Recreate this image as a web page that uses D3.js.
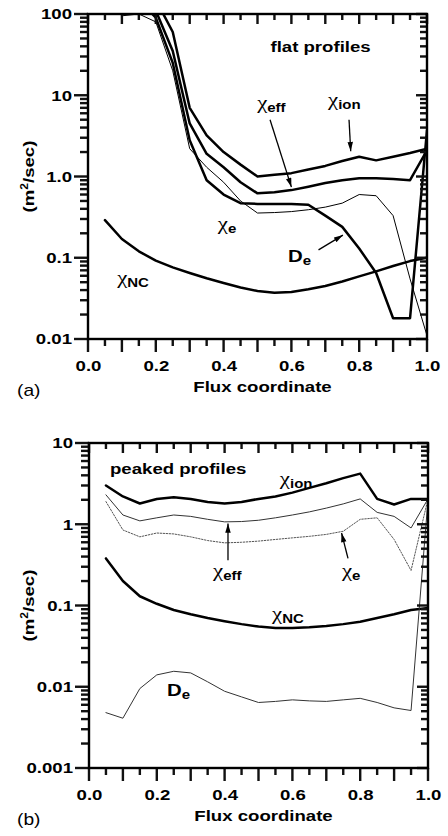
<!DOCTYPE html>
<html><head><meta charset="utf-8">
<script src="https://cdn.jsdelivr.net/npm/d3@7"></script>
<style>
body{margin:0;background:#fff}
svg{display:block}
</style></head><body>
<svg id="chart" width="448" height="836"></svg>
<script>
// ---------------- data ----------------
const xs = [0.05,0.1,0.15,0.2,0.25,0.3,0.35,0.4,0.45,0.5,0.55,0.6,0.65,0.7,0.75,0.8,0.85,0.9,0.95,1.0];

// (a) flat profiles
const flatChiIon = [150,150,150,150,60,7,3.2,2.0,1.4,1.0,1.05,1.1,1.22,1.35,1.55,1.75,1.58,1.75,1.95,2.2];
const flatChiEff = [150,150,150,110,35,4.5,1.9,1.3,0.85,0.62,0.64,0.68,0.75,0.83,0.9,0.95,0.95,0.93,0.9,2.1];
const flatDe     = [150,150,150,90,25,2.8,0.9,0.6,0.47,0.46,0.46,0.46,0.45,0.33,0.24,0.13,0.065,0.018,0.018,3.7];
const flatChiE   = [150,95,100,80,20,2.2,1.3,0.85,0.5,0.355,0.36,0.37,0.39,0.42,0.47,0.6,0.58,0.33,0.055,0.011];
const flatChiNC  = [0.29,0.17,0.12,0.092,0.076,0.065,0.056,0.049,0.043,0.039,0.037,0.038,0.041,0.045,0.051,0.059,0.068,0.079,0.091,0.1];

// (b) peaked profiles
const peakChiIon = [3.0,2.2,1.8,2.05,2.15,2.05,1.88,1.8,1.88,2.05,2.2,2.45,2.8,3.2,3.7,4.2,2.05,1.75,2.05,2.05];
const peakChiEff = [2.3,1.3,1.1,1.2,1.3,1.25,1.15,1.07,1.08,1.12,1.2,1.3,1.42,1.58,1.78,2.05,1.4,1.25,0.9,2.05];
const peakChiE   = [1.9,0.85,0.7,0.78,0.76,0.7,0.63,0.59,0.6,0.62,0.65,0.68,0.71,0.75,0.82,1.15,1.2,0.65,0.27,2.05];
const peakChiNC  = [0.38,0.2,0.13,0.105,0.088,0.078,0.07,0.064,0.059,0.055,0.053,0.053,0.054,0.056,0.059,0.063,0.07,0.078,0.088,0.093];
const peakDe     = [0.0048,0.0041,0.0095,0.014,0.0155,0.0148,0.0115,0.0088,0.0075,0.0064,0.0066,0.0069,0.0067,0.0066,0.0069,0.0072,0.0064,0.0055,0.0051,2.0];

// ticks
const xTickLabels = ["0.0","0.2","0.4","0.6","0.8","1.0"];
const flatYTicks = [100,10,1,0.1,0.01];
const flatYLabels = ["100","10","1.0","0.1","0.01"];
const peakYTicks = [10,1,0.1,0.01,0.001];
const peakYLabels = ["10","1","0.1","0.01","0.001"];

// ---------------- drawing ----------------
const SANS = "'Liberation Sans', Arial, Helvetica, sans-serif";
const SERIF = "'Liberation Serif', 'Times New Roman', serif";
const SX = 1.2;
const W = 339, H = 325;
const TW = 2.4; // tick thickness
const svg = d3.select('#chart');

const defs = svg.append('defs');
defs.append('marker').attr('id','arrow').attr('viewBox','0 0 10 6')
  .attr('refX',10).attr('refY',3).attr('markerWidth',10).attr('markerHeight',5.5)
  .attr('markerUnits','userSpaceOnUse').attr('orient','auto')
  .append('path').attr('d','M0,0 L10,3 L0,6 Z').attr('fill','#000');

function addText(parent, x, y, parts, opts = {}) {
  const t = parent.append('text')
    .attr('transform', `translate(${x},${y})${opts.rotate ? ` rotate(${opts.rotate})` : ''} scale(${SX},1)`)
    .attr('text-anchor', opts.anchor || 'start')
    .attr('fill', '#000');
  parts.forEach(p => {
    t.append('tspan')
      .attr('font-family', p.family || SANS)
      .attr('font-weight', p.weight || 'bold')
      .attr('font-size', p.size || 15.5)
      .attr('dy', p.dy || 0)
      .text(p.t);
  });
  return t;
}
function chiParts(sub) {
  return [{t:'\u03c7', family:SERIF, weight:'normal', size:19}, {t:sub, size:12.5, dy:3}];
}
function deParts() {
  return [{t:'D', size:17}, {t:'e', size:12.5, dy:3}];
}

function drawPanel(p) {
  const g = svg.append('g').attr('transform', `translate(${p.left},${p.top})`);
  const x = d3.scaleLinear().domain([0, 1]).range([0, W]);
  const y = d3.scaleLog().domain(p.yDomain).range([H, 0]);

  const clipId = 'clip-' + p.id;
  defs.append('clipPath').attr('id', clipId).append('rect')
    .attr('x', 0).attr('y', 0).attr('width', W).attr('height', H);

  const line = d3.line().x(d => x(d[0])).y(d => y(d[1]));
  const plot = g.append('g').attr('clip-path', `url(#${clipId})`);
  p.series.forEach(s => {
    plot.append('path')
      .datum(xs.map((v, i) => [v, s.values[i]]))
      .attr('d', line)
      .attr('fill', 'none')
      .attr('stroke', s.color || '#000')
      .attr('stroke-width', s.width)
      .attr('stroke-dasharray', s.dash || null)
      .attr('stroke-linejoin', 'round')
      .attr('stroke-linecap', 'round');
  });

  const lo = Math.round(Math.log10(p.yDomain[0])), hi = Math.round(Math.log10(p.yDomain[1]));
  const minors = [];
  for (let e = lo; e < hi; e++) for (let m = 2; m <= 9; m++) minors.push(m * Math.pow(10, e));
  const xMaj = d3.range(0, 11).map(i => i / 10);
  const xMin = d3.range(0, 10).map(i => i / 10 + 0.05);

  // tick marks (filled rectangles placed by the scales)
  const h2 = TW / 2;
  const rects = [];
  minors.forEach(d => { rects.push({x:-8, y:y(d)-h2, w:8, h:TW}); rects.push({x:W-7, y:y(d)-h2, w:7, h:TW}); });
  p.yTicks.forEach(d => { rects.push({x:-14, y:y(d)-h2, w:14, h:TW}); rects.push({x:W-11, y:y(d)-h2, w:11, h:TW}); });
  xMin.forEach(d => { rects.push({x:x(d)-h2, y:0, w:TW, h:6}); rects.push({x:x(d)-h2, y:H, w:TW, h:7}); });
  xMaj.forEach(d => { rects.push({x:x(d)-h2, y:0, w:TW, h:10}); rects.push({x:x(d)-h2, y:H, w:TW, h:13}); });
  g.append('g').attr('class', 'ticks').selectAll('rect').data(rects).join('rect')
    .attr('x', d => d.x).attr('y', d => d.y).attr('width', d => d.w).attr('height', d => d.h)
    .attr('fill', '#111');

  // frame
  g.append('rect').attr('x', 0).attr('y', 0).attr('width', W).attr('height', H)
    .attr('fill', 'none').attr('stroke', '#000').attr('stroke-width', 2.4);

  // tick labels via d3 axes
  const la = g.append('g').call(d3.axisLeft(y).tickValues(p.yTicks).tickFormat((d, i) => p.yLabels[i]).tickSize(13).tickPadding(3).tickSizeOuter(0));
  const lb = g.append('g').attr('transform', `translate(0,${H})`).call(
    d3.axisBottom(x).tickValues(xMaj).tickFormat((d, i) => i % 2 === 0 ? xTickLabels[i / 2] : '')
      .tickSize(10).tickPadding(11).tickSizeOuter(0));
  [la, lb].forEach(a => {
    a.select('.domain').remove();
    a.selectAll('.tick line').remove();
    a.selectAll('text').attr('font-family', SANS).attr('font-weight', 'bold').attr('font-size', 15.5).attr('fill', '#000')
      .each(function () {
        const t = d3.select(this);
        const xx = +t.attr('x') || 0;
        t.attr('x', xx / SX).attr('transform', `scale(${SX},1)`);
      });
  });

  addText(g, W / 2 + 5, H + 53, [{t:'Flux coordinate', size:15.5}], {anchor:'middle'});
  addText(g, 34 - p.left, H / 2, [{t:'(m', size:15.5}, {t:'2', size:10, dy:-6}, {t:'/sec)', size:15.5, dy:6}], {anchor:'middle', rotate:-90});
  addText(g, 17 - p.left, H + 57, [{t:p.tag, weight:'normal', size:16}]);

  p.labels.forEach(l => addText(g, x(l.x), y(l.y), l.parts, {anchor: l.anchor || 'start'}));
  p.arrows.forEach(a => {
    g.append('line')
      .attr('x1', x(a.from[0])).attr('y1', y(a.from[1]))
      .attr('x2', x(a.to[0])).attr('y2', y(a.to[1]))
      .attr('stroke', '#000').attr('stroke-width', 1.3)
      .attr('marker-end', 'url(#arrow)');
  });
}

drawPanel({
  id: 'a', left: 88, top: 14, yDomain: [0.01, 100],
  yTicks: flatYTicks, yLabels: flatYLabels, tag: '(a)',
  series: [
    {values: flatChiIon, width: 2.5},
    {values: flatChiEff, width: 2.5},
    {values: flatDe, width: 2.5},
    {values: flatChiE, width: 1},
    {values: flatChiNC, width: 2.5}
  ],
  labels: [
    {x: 0.686, y: 34, anchor: 'middle', parts: [{t:'flat profiles', size:15.5}]},
    {x: 0.499, y: 6.8, parts: chiParts('eff')},
    {x: 0.708, y: 7.4, parts: chiParts('ion')},
    {x: 0.383, y: 0.22, parts: chiParts('e')},
    {x: 0.59, y: 0.089, parts: deParts()},
    {x: 0.086, y: 0.0475, parts: chiParts('NC')}
  ],
  arrows: [
    {from: [0.537, 5.0], to: [0.6, 0.74]},
    {from: [0.77, 5.0], to: [0.775, 2.05]},
    {from: [0.68, 0.125], to: [0.752, 0.19]}
  ]
});

drawPanel({
  id: 'b', left: 89, top: 443, yDomain: [0.001, 10],
  yTicks: peakYTicks, yLabels: peakYLabels, tag: '(b)',
  series: [
    {values: peakChiIon, width: 2.5},
    {values: peakChiEff, width: 1, color: '#333'},
    {values: peakChiE, width: 1, color: '#555', dash: '1.5,1.5'},
    {values: peakChiNC, width: 2.5},
    {values: peakDe, width: 1, color: '#333'}
  ],
  labels: [
    {x: 0.062, y: 4.15, parts: [{t:'peaked profiles', size:15.5}]},
    {x: 0.563, y: 3.04, parts: chiParts('ion')},
    {x: 0.366, y: 0.224, parts: chiParts('eff')},
    {x: 0.746, y: 0.224, parts: chiParts('e')},
    {x: 0.54, y: 0.066, parts: chiParts('NC')},
    {x: 0.23, y: 0.0077, parts: deParts()}
  ],
  arrows: [
    {from: [0.41, 0.36], to: [0.41, 1.02]},
    {from: [0.764, 0.38], to: [0.745, 0.78]}
  ]
});
</script>
</body></html>
